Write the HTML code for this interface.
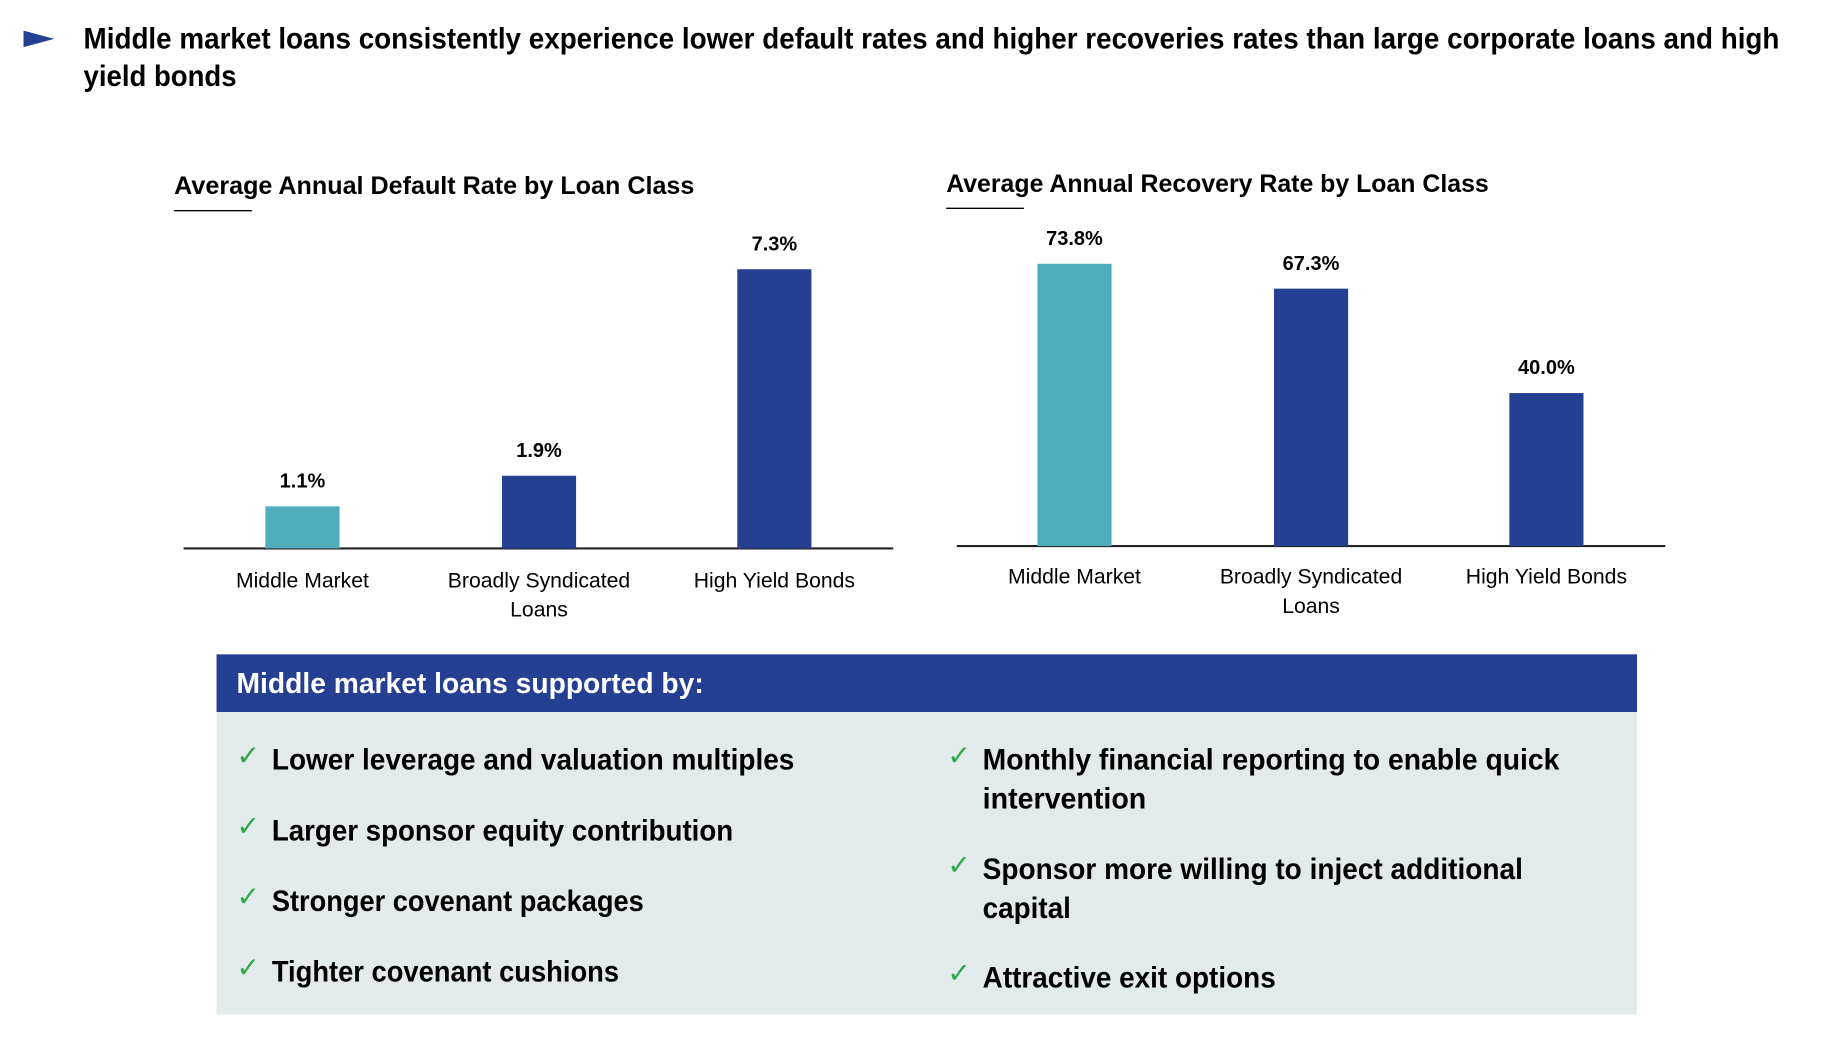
<!DOCTYPE html>
<html><head><meta charset="utf-8"><style>
html,body{margin:0;padding:0;background:#fff;width:1846px;height:1038px;overflow:hidden}
text{font-family:"Liberation Sans",sans-serif}
</style></head><body>
<svg id="s" width="1846" height="1038" viewBox="0 0 1568 882" preserveAspectRatio="xMinYMin meet">
<polygon points="20,26 46,33 20,40" fill="#253F93"/>
<text x="71" y="41" font-size="25" font-weight="bold" textLength="1441" lengthAdjust="spacingAndGlyphs">Middle market loans consistently experience lower default rates and higher recoveries rates than large corporate loans and high</text>
<text x="71" y="73" font-size="25" font-weight="bold" textLength="130" lengthAdjust="spacingAndGlyphs">yield bonds</text>
<text x="148" y="165" font-size="21" font-weight="bold" textLength="442" lengthAdjust="spacingAndGlyphs">Average Annual Default Rate by Loan Class</text>
<line x1="148" y1="179" x2="214" y2="179" stroke="#000" stroke-width="1.2"/>
<text x="804" y="163" font-size="21" font-weight="bold" textLength="461" lengthAdjust="spacingAndGlyphs">Average Annual Recovery Rate by Loan Class</text>
<line x1="804" y1="177" x2="870" y2="177" stroke="#000" stroke-width="1.2"/>
<g id="c1"></g>
<g id="c2"></g>
<rect x="184" y="556" width="1207" height="49" fill="#253F93"/>
<rect x="184" y="605" width="1207" height="257" fill="#E3EAEC"/>
<text x="201" y="589" font-size="24" font-weight="bold" fill="#fff" textLength="397" lengthAdjust="spacingAndGlyphs">Middle market loans supported by:</text>
<g id="items"></g>
</svg>
<script>
const categories=["Middle Market","Broadly Syndicated|Loans","High Yield Bonds"];
const defaultRates=[1.1,1.9,7.3];
const recoveryRates=[73.8,67.3,40.0];
const NS="http://www.w3.org/2000/svg";
function mk(tag,attrs,parent){const e=document.createElementNS(NS,tag);for(const k in attrs)e.setAttribute(k,attrs[k]);parent.appendChild(e);return e;}
function chart(g,vals,x0,x1,base,pxPer,centers,labelY,prefix){
  const axis=mk('line',{x1:x0,y1:base,x2:x1,y2:base,stroke:'#222','stroke-width':1.8},g);
  
  
  vals.forEach((v,i)=>{
    const h=v*pxPer, cx=centers[i];
    const r=mk('rect',{x:cx-31.5,y:base-h,width:63,height:h,fill:i===0?'#4EAEBC':'#253F93'},g);
    
    
    const t=mk('text',{x:cx,y:base-h-16,'font-size':17,'font-weight':'bold','text-anchor':'middle'},g);
    t.textContent=v.toFixed(1)+'%';
    
    
    categories[i].split('|').forEach((ln,j)=>{
      const c=mk('text',{x:cx,y:labelY+j*25,'font-size':18,'text-anchor':'middle'},g);
      c.textContent=ln;
      
      
    });
  });
}
chart(document.getElementById('c1'),defaultRates,156,759,466,32.5,[257,458,658],499,'default');
chart(document.getElementById('c2'),recoveryRates,813,1415,464,3.25,[913,1114,1314],496,'recovery');
const items=[
 [231,654,"Lower leverage and valuation multiples",444,true],
 [231,714,"Larger sponsor equity contribution",392,true],
 [231,774,"Stronger covenant packages",316,true],
 [231,834,"Tighter covenant cushions",295,true],
 [835,654,"Monthly financial reporting to enable quick",490,true],
 [835,687,"intervention",139,false],
 [835,747,"Sponsor more willing to inject additional",459,true],
 [835,780,"capital",75,false],
 [835,839,"Attractive exit options",249,true]];
const ig=document.getElementById('items');
items.forEach(it=>{
  const t=mk('text',{x:it[0],y:it[1],'font-size':25,'font-weight':'bold',textLength:it[3],lengthAdjust:'spacingAndGlyphs'},ig);
  t.textContent=it[2];
  
  
  if(it[4]){
    const c=mk('text',{x:it[0]-30,y:it[1]-4,'font-size':24,fill:'#2EAA4A'},ig);
    c.textContent='✓';
    
    
  }
});
</script>
</body></html>
